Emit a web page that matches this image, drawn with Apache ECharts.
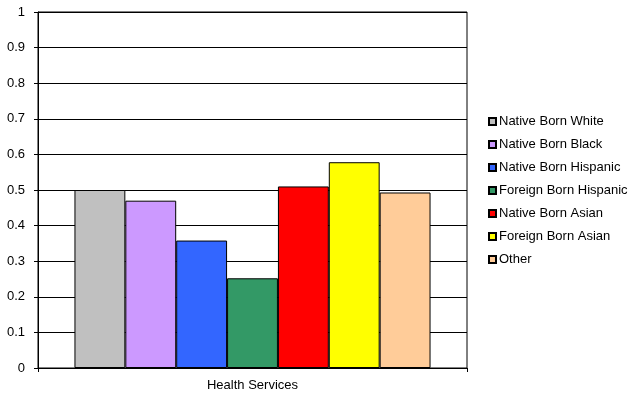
<!DOCTYPE html>
<html>
<head>
<meta charset="utf-8">
<script src="https://cdn.jsdelivr.net/npm/echarts@6/dist/echarts.min.js"></script>
<style>
  html, body { margin: 0; padding: 0; background: #fff; }
  #chart { width: 642px; height: 395px; }
</style>
</head>
<body>
<div id="chart"></div>
<script>
// Share of workers by group in the health services industry
const categories = ['Health Services'];
const groupNames = [
  'Native Born White', 'Native Born Black', 'Native Born Hispanic',
  'Foreign Born Hispanic', 'Native Born Asian', 'Foreign Born Asian', 'Other'
];
const groupValues = [0.50, 0.47, 0.358, 0.252, 0.51, 0.578, 0.493];
const groupColors = ['#C0C0C0', '#CC99FF', '#3366FF', '#339966', '#FF0000', '#FFFF00', '#FFCC99'];
const yTicks = { min: 0, max: 1, interval: 0.1 };

const font = 'Liberation Sans, Arial, sans-serif';
const chart = echarts.init(document.getElementById('chart'), null, { renderer: 'canvas' });

chart.setOption({
  animation: false,
  backgroundColor: '#fff',
  grid: {
    left: 38, right: 175, top: 12, bottom: 27,
    show: true, borderColor: '#000', borderWidth: 1, backgroundColor: 'transparent'
  },
  legend: {
    orient: 'vertical',
    left: 488, top: 114,
    padding: 0,
    icon: 'rect',
    itemWidth: 7, itemHeight: 7,
    itemGap: 8,
    textStyle: { fontFamily: font, fontSize: 13, color: '#000', lineHeight: 15, padding: [0, 0, 0, -2] },
    data: groupNames
  },
  xAxis: {
    type: 'category',
    data: categories,
    axisLine: { lineStyle: { color: '#000', width: 1 } },
    axisTick: { show: true, length: 4, lineStyle: { color: '#000' } },
    axisLabel: { fontFamily: font, fontSize: 13, color: '#000', margin: 11 }
  },
  yAxis: {
    type: 'value',
    min: yTicks.min, max: yTicks.max, interval: yTicks.interval,
    axisLine: { show: true, lineStyle: { color: '#000', width: 1 } },
    axisTick: { show: true, length: 4, lineStyle: { color: '#000' } },
    axisLabel: {
      fontFamily: font, fontSize: 13, color: '#000', margin: 13,
      formatter: v => String(Math.round(v * 10) / 10)
    },
    splitLine: { show: true, lineStyle: { color: '#000', width: 1 } }
  },
  series: groupNames.map((name, i) => ({
    name,
    type: 'bar',
    data: [groupValues[i]],
    barGap: '0%',
    barCategoryGap: '17%',
    itemStyle: { color: groupColors[i], borderColor: '#000', borderWidth: 1 }
  }))
});
</script>
</body>
</html>
